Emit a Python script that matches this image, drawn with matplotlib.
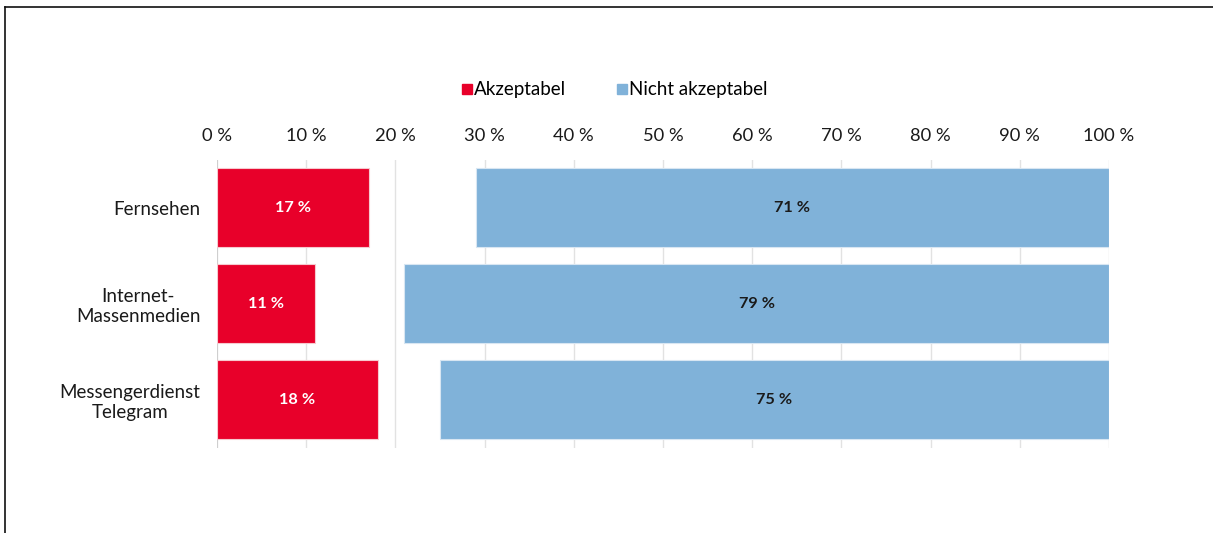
import matplotlib
matplotlib.use("Agg")
import matplotlib.pyplot as plt
from matplotlib.lines import Line2D

plt.rcParams['font.family'] = ['Lato', 'DejaVu Sans']

categories = ["Fernsehen", "Internet-\nMassenmedien", "Messengerdienst\nTelegram"]
akzeptabel = [17, 11, 18]
nicht_akzeptabel = [71, 79, 75]
ticks = list(range(0, 101, 10))
tick_labels = [f"{t} %" for t in ticks]
series_names = ["Akzeptabel", "Nicht akzeptabel"]

RED = "#E8002A"
BLUE = "#80B2D9"

W, H = 1213, 533
fig = plt.figure(figsize=(W / 100, H / 100), dpi=100)
ax = fig.add_axes([217 / W, 1 - 447.5 / H, (1109 - 217) / W, (447.5 - 159.5) / H])

y = list(range(len(categories)))
ax.barh(y, akzeptabel, height=0.83, color=RED, edgecolor="#f6c9cf", linewidth=0.8, zorder=3)
blue_left = [100 - v for v in nicht_akzeptabel]
ax.barh(y, nicht_akzeptabel, left=blue_left, height=0.83, color=BLUE,
        edgecolor="#d8e6f2", linewidth=0.8, zorder=3)

for yi, v in zip(y, akzeptabel):
    ax.text(v / 2, yi, f"{v} %", ha="center", va="center", color="white",
            fontsize=11.7, fontweight="bold", zorder=4)
for yi, l, v in zip(y, blue_left, nicht_akzeptabel):
    ax.text(l + v / 2, yi, f"{v} %", ha="center", va="center", color="#1a1a1a",
            fontsize=11.7, fontweight="bold", zorder=4)

ax.set_xlim(0, 100)
ax.set_ylim(2.5, -0.5)
ax.set_xticks(ticks)
ax.set_xticklabels(tick_labels)
ax.xaxis.tick_top()
ax.tick_params(axis="x", length=0, pad=11, labelsize=13.2, colors="#1a1a1a")
ax.set_yticks(y)
ax.set_yticklabels(categories, multialignment="center")
ax.tick_params(axis="y", length=0, pad=12, labelsize=13.5, colors="#1a1a1a")
for s in ax.spines.values():
    s.set_visible(False)
for t in ticks:
    ax.axvline(t, color="#cfcfcf" if t == 0 else "#e2e2e2",
               linewidth=1.6 if t == 0 else 1.0, zorder=1)

handles = [Line2D([], [], marker="s", linestyle="none", markersize=7.5, color=RED),
           Line2D([], [], marker="s", linestyle="none", markersize=7.5, color=BLUE)]
fig.legend(handles, series_names, loc="center", bbox_to_anchor=(614 / W, 1 - 90 / H),
           ncol=2, frameon=False, fontsize=13.5, handletextpad=0.05,
           columnspacing=2.6, handlelength=0.7, borderpad=0)

# outer frame (top and left edges)
fig.add_artist(Line2D([5 / W, 1], [1 - 7 / H, 1 - 7 / H], color="#111111", linewidth=1.2))
fig.add_artist(Line2D([5 / W, 5 / W], [0, 1 - 7 / H], color="#111111", linewidth=1.2))

fig.savefig("out.png", dpi=100)
